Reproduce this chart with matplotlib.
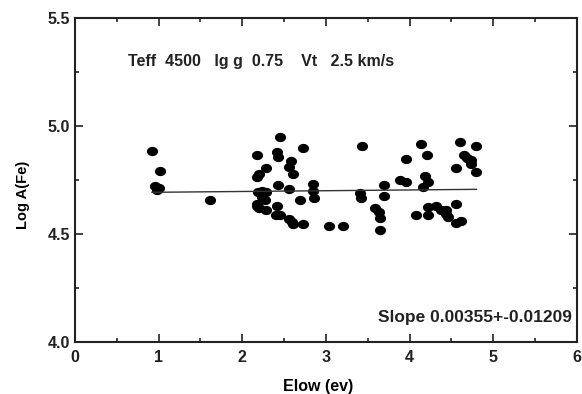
import matplotlib.pyplot as plt
import numpy as np

plt.rcParams['font.family'] = ['Liberation Sans', 'DejaVu Sans']
plt.rcParams['font.weight'] = 'bold'

# Fe I lines: lower excitation potential vs abundance
elow = [0.92, 1.01, 0.96, 0.98, 1.00, 1.61,
        2.17, 2.18, 2.20, 2.28, 2.24, 2.28, 2.24, 2.27, 2.19, 2.17, 2.20, 2.28, 2.17,
        2.45, 2.42, 2.43, 2.73, 2.58, 2.56, 2.61, 2.43, 2.56, 2.85, 2.85, 2.86, 2.69,
        2.41, 2.40, 2.45, 2.56, 2.59, 2.61, 2.73, 3.04, 3.21,
        3.43, 3.41, 3.42, 3.69, 3.69, 3.59, 3.63, 3.65, 3.65, 3.89, 3.96, 3.96,
        4.14, 4.21, 4.18, 4.22, 4.16, 4.08, 4.22, 4.22, 4.32, 4.38, 4.44, 4.46,
        4.44, 4.55, 4.56, 4.61, 4.60, 4.80, 4.65, 4.69, 4.73, 4.73, 4.55, 4.80]
log_a = [4.883, 4.793, 4.723, 4.703, 4.713, 4.658,
         4.868, 4.763, 4.778, 4.808, 4.701, 4.696, 4.673, 4.658, 4.693, 4.638, 4.620, 4.612, 4.628,
         4.948, 4.880, 4.857, 4.897, 4.837, 4.811, 4.777, 4.727, 4.709, 4.730, 4.701, 4.667, 4.658,
         4.631, 4.589, 4.589, 4.571, 4.556, 4.548, 4.548, 4.539, 4.539,
         4.906, 4.689, 4.667, 4.727, 4.678, 4.620, 4.600, 4.572, 4.520, 4.750, 4.739, 4.846,
         4.918, 4.868, 4.768, 4.739, 4.716, 4.589, 4.627, 4.589, 4.631, 4.612, 4.612, 4.581,
         4.593, 4.638, 4.551, 4.559, 4.926, 4.907, 4.868, 4.854, 4.842, 4.826, 4.806, 4.788]

fit_slope = 0.00355
fit_intercept = 4.690

params_text = 'Teff  4500   lg g  0.75    Vt   2.5 km/s'
slope_text = 'Slope 0.00355+-0.01209'

# the scan is a bit stretched sideways, so the dots are ellipses
t = np.linspace(0, 2 * np.pi, 41)
dot = np.column_stack([1.2 * np.cos(t), np.sin(t)])

fig = plt.figure(figsize=(5.82, 3.94), dpi=100)
ax = fig.add_axes([0.129, 0.132, 0.862, 0.822])

ax.plot(elow, log_a, linestyle='none', marker=dot, color='black',
        markersize=8, markeredgewidth=0)

xf = np.array([min(elow), max(elow)])
ax.plot(xf, fit_intercept + fit_slope * xf, color='#333333', linewidth=1.0)

ax.set_xlim(0, 6)
ax.set_ylim(4.0, 5.5)
ax.set_xticks(np.arange(0, 7, 1))
ax.set_xticks(np.arange(0.5, 6, 1), minor=True)
ax.set_yticks([4.0, 4.5, 5.0, 5.5])
ax.set_yticks([4.25, 4.75, 5.25], minor=True)
ax.set_yticklabels(['4.0', '4.5', '5.0', '5.5'])

ax.tick_params(which='both', direction='in', top=True, right=True, width=1.2,
               labelsize=11.5, colors='#222222')
ax.tick_params(which='major', length=6)
ax.tick_params(which='minor', length=3)
ax.tick_params(axis='x', pad=6)
for s in ax.spines.values():
    s.set_linewidth(1.5)
    s.set_color('#222222')

ax.set_xlabel('Elow (ev)', fontsize=11.5, fontweight='bold', labelpad=6)
ax.set_ylabel('Log A(Fe)', fontsize=10.5, fontweight='bold')
ax.yaxis.set_label_coords(-0.09, 0.454)
ax.xaxis.set_label_coords(0.485, -0.115)

ax.text(0.105, 0.865, params_text, transform=ax.transAxes, fontsize=11.5,
        fontweight='bold', ha='left', va='center', color='#222222')
ax.text(0.99, 0.075, slope_text, transform=ax.transAxes, fontsize=12.5,
        fontweight='bold', ha='right', va='center', color='#222222')

fig.savefig('out.png', dpi=100)
